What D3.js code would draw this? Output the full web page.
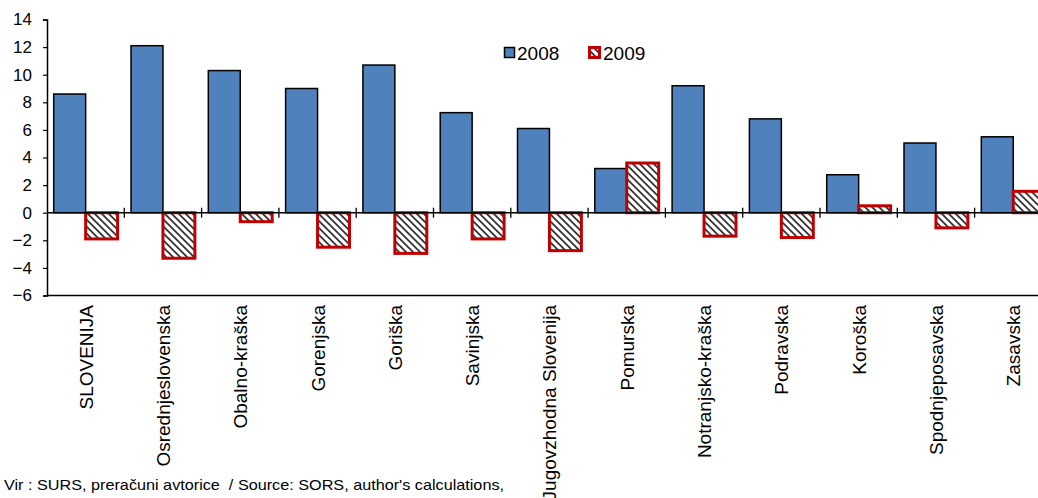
<!DOCTYPE html>
<html><head><meta charset="utf-8">
<script src="https://cdn.jsdelivr.net/npm/d3@7"></script>
<style>body{margin:0;background:#fff;overflow:hidden}svg{display:block}text{font-family:"Liberation Sans",Arial,sans-serif;fill:#000;white-space:pre}</style>
</head><body><svg id="c" width="1038" height="498"></svg>
<script>
const categories = ["SLOVENIJA","Osrednjeslovenska","Obalno-kraška","Gorenjska","Goriška","Savinjska","Jugovzhodna Slovenija","Pomurska","Notranjsko-kraška","Podravska","Koroška","Spodnjeposavska","Zasavska"];
const series = ["2008","2009"];
const values2008 = [8.6,12.1,10.3,9.0,10.7,7.25,6.1,3.2,9.2,6.8,2.75,5.05,5.5];
const values2009 = [-1.9,-3.3,-0.65,-2.5,-2.95,-1.9,-2.75,3.6,-1.7,-1.8,0.5,-1.1,1.55];
const yTicks = [-6,-4,-2,0,2,4,6,8,10,12,14];
const footnote = "Vir : SURS, preračuni avtorice  / Source: SORS, author's calculations,";

const svg = d3.select("#c");
const mLeft = 47, mTop = 19.5, mBottom = 295.5, bandW = 77.3;
const x = d3.scaleBand().domain(categories).range([mLeft, mLeft + categories.length*bandW]).padding(0);
const xs = d3.scaleBand().domain(series).range([0, x.bandwidth()]).paddingInner(0).paddingOuter(0.21);
const y = d3.scaleLinear().domain([-6,14]).range([mBottom, mTop]);

const defs = svg.append("defs");
const pat = defs.append("pattern").attr("id","hatch").attr("patternUnits","userSpaceOnUse")
  .attr("width",7).attr("height",7);
pat.append("rect").attr("width",7).attr("height",7).attr("fill","#fff");
pat.append("path").attr("d","M0,0L7,7M-1,6L1,8M6,-1L8,1").attr("stroke","#333").attr("stroke-width",1.8);

// y axis
const yAxis = d3.axisLeft(y).tickValues(yTicks).tickSize(4).tickPadding(10).tickFormat(d3.format("d"));
const gy = svg.append("g").attr("transform",`translate(${mLeft},0)`).call(yAxis);
gy.select(".domain").attr("stroke","#000").attr("stroke-width",1.5);
gy.selectAll(".tick line").attr("stroke","#000").attr("stroke-width",1.2);
gy.selectAll(".tick text").style("font-size","17px").style("font-family","Liberation Sans, Arial, sans-serif").attr("x",-15);

// bottom border
svg.append("line").attr("x1",mLeft).attr("x2",1040).attr("y1",y(-6)).attr("y2",y(-6)).attr("stroke","#000").attr("stroke-width",1.5);

// bars
const g = svg.append("g");
categories.forEach((c,i)=>{
  const v8 = values2008[i], v9 = values2009[i];
  g.append("rect").attr("x", x(c)+xs("2008")).attr("width", xs.bandwidth())
    .attr("y", y(Math.max(0,v8))).attr("height", Math.abs(y(v8)-y(0)))
    .attr("fill","#4f81bd").attr("stroke","#000").attr("stroke-width",1.5);
  g.append("rect").attr("x", x(c)+xs("2009")).attr("width", xs.bandwidth())
    .attr("y", y(Math.max(0,v9))).attr("height", Math.abs(y(v9)-y(0)))
    .attr("fill","url(#hatch)").attr("stroke","#c00000").attr("stroke-width",3);
});

// zero axis with category ticks
const xAxis = d3.axisBottom(x).tickValues([]).tickSizeOuter(0);
const gx = svg.append("g").attr("transform",`translate(0,${y(0)})`).call(xAxis);
gx.select(".domain").attr("d",`M${mLeft},0H1040`).attr("stroke","#000").attr("stroke-width",1.5);
categories.slice(1).forEach(c=>{
  gx.append("line").attr("x1",x(c)).attr("x2",x(c)).attr("y1",-5).attr("y2",5).attr("stroke","#000").attr("stroke-width",1.3);
});

// category labels
svg.append("g").selectAll("text").data(categories).join("text")
  .attr("transform",d=>`translate(${x(d)+x.bandwidth()/2+7},305) rotate(-90)`)
  .attr("text-anchor","end").style("font-size","19px").text(d=>d);

// legend
const leg = svg.append("g");
leg.append("rect").attr("x",504.5).attr("y",47.5).attr("width",10).attr("height",10).attr("fill","#4f81bd").attr("stroke","#000").attr("stroke-width",1.5);
leg.append("text").attr("x",517).attr("y",60).style("font-size","19px").text(series[0]);
leg.append("rect").attr("x",589.5).attr("y",47.5).attr("width",10).attr("height",10).attr("fill","url(#hatch)").attr("stroke","#c00000").attr("stroke-width",3);
leg.append("text").attr("x",603).attr("y",60).style("font-size","19px").text(series[1]);

svg.append("text").attr("x",4).attr("y",490).style("font-size","15px")
  .attr("textLength",500).attr("lengthAdjust","spacingAndGlyphs").text(footnote);
</script></body></html>
